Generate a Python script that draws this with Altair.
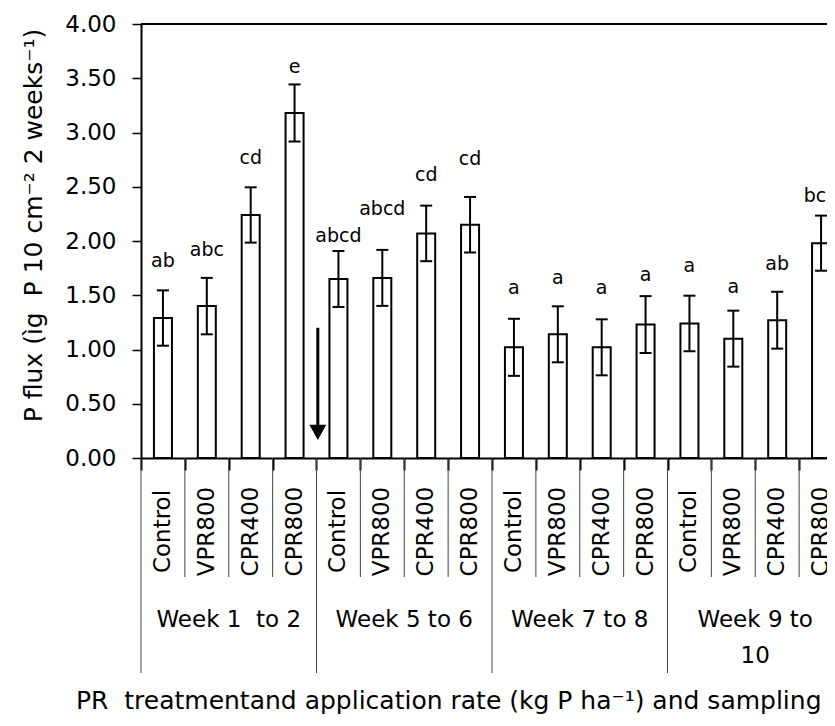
import altair as alt
import pandas as pd

# ---------------- data ----------------
groups = ["Week 1\u00a0 to 2", "Week 5 to 6", "Week 7 to 8", "Week 9 to\n10"]
treatments = ["Control", "VPR800", "CPR400", "CPR800"]
flux = [1.29, 1.40, 2.24, 3.18,
        1.65, 1.66, 2.07, 2.15,
        1.02, 1.14, 1.02, 1.23,
        1.24, 1.10, 1.27, 1.98]
se = [0.255, 0.26, 0.255, 0.263,
      0.258, 0.258, 0.256, 0.256,
      0.263, 0.258, 0.258, 0.262,
      0.256, 0.258, 0.262, 0.254]
letters = ["ab", "abc", "cd", "e",
           "abcd", "abcd", "cd", "cd",
           "a", "a", "a", "a",
           "a", "a", "ab", "bcd"]
letter_y = [1.76, 1.865, 2.71, 3.55,
            1.99, 2.237, 2.55, 2.70,
            1.515, 1.60, 1.515, 1.63,
            1.714, 1.52, 1.73, 2.36]
y_ticks = [0.0, 0.5, 1.0, 1.5, 2.0, 2.5, 3.0, 3.5, 4.0]
arrow_slot = [4.03]       # just right of the boundary between the first two sampling periods
arrow_from = [1.20]
arrow_to = [0.30]
arrow_head = [0.236]

y_title = "P flux (\u00ecg\u00a0 P 10 cm\u207b\u00b2 2 weeks\u207b\u00b9)"
x_title = "PR\u00a0 treatmentand application rate (kg P ha\u207b\u00b9) and sampling period"

# ---------------- tables ----------------
n = len(flux)
df = pd.DataFrame({
    "pos": [i + 0.5 for i in range(n)],
    "flux": flux,
    "lo": [f - s for f, s in zip(flux, se)],
    "hi": [f + s for f, s in zip(flux, se)],
    "letter": letters,
    "ly": letter_y,
    "cat": [treatments[i % 4] for i in range(n)],
})
inner_df = pd.DataFrame({"b": [b for b in range(1, n) if b % 4]})
week_df = pd.DataFrame({"b": [b for b in range(0, n, 4)]})
grp_df = pd.DataFrame({"c": [g * 4 + 2 for g in range(len(groups))], "grp": groups})
arrow_df = pd.DataFrame({"x": arrow_slot, "y1": arrow_from, "y2": arrow_to, "yh": arrow_head})
top_df = pd.DataFrame({"top": [4.0]})

W = 686
H = 434
XMAX = 686 / 43.875  # visible part of the 16 category slots (the figure is cut at the right)
FONT = "DejaVu Sans"

xs = alt.Scale(domain=[0, XMAX], nice=False, zero=False, padding=0)
ys = alt.Scale(domain=[0, 4], nice=False, padding=0)

x_axis = alt.Axis(
    orient="bottom", values=list(range(16)), tickSize=12, tickWidth=2, tickColor="black",
    labels=False, grid=False, domainColor="black", domainWidth=2,
    title=x_title, titleFontSize=25, titleFontWeight="normal", titleFont=FONT, titleColor="black",
    titleX=351, titleY=250, titleAlign="center", titleBaseline="alphabetic")
y_axis = alt.Axis(
    orient="left", values=y_ticks, format=".2f", tickSize=9, tickWidth=1.5, tickColor="black",
    labelPadding=16, labelFontSize=23, labelFont=FONT, labelColor="black",
    grid=False, domainColor="black", domainWidth=2,
    title=y_title, titleFontSize=25, titleFontWeight="normal", titleFont=FONT, titleColor="black",
    titleX=-95, titleY=201)


def X(field):
    return alt.X(field, scale=xs, axis=x_axis)


def Y(field):
    return alt.Y(field, scale=ys, axis=y_axis)


bars = alt.Chart(df).mark_bar(size=18, fill="white", stroke="black", strokeWidth=2).encode(
    x=X("pos:Q"), y=Y("flux:Q"), y2=alt.datum(0),
)
stems = alt.Chart(df).mark_rule(color="black", strokeWidth=2).encode(
    x=X("pos:Q"), y=Y("lo:Q"), y2="hi:Q",
)
caps_hi = alt.Chart(df).mark_tick(orient="horizontal", size=12, thickness=2, color="black", opacity=1).encode(
    x=X("pos:Q"), y=Y("hi:Q"),
)
caps_lo = alt.Chart(df).mark_tick(orient="horizontal", size=12, thickness=2, color="black", opacity=1).encode(
    x=X("pos:Q"), y=Y("lo:Q"),
)
labels = alt.Chart(df).mark_text(fontSize=19, font=FONT, baseline="alphabetic", align="center",
                                 color="black").encode(
    x=X("pos:Q"), y=Y("ly:Q"), text="letter:N",
)
arrow_line = alt.Chart(arrow_df).mark_rule(color="black", strokeWidth=3).encode(
    x=X("x:Q"), y=Y("y1:Q"), y2="y2:Q",
)
arrow_tip = alt.Chart(arrow_df).mark_point(
    shape="M-1,-0.9L1,-0.9L0,0.9Z", size=289, filled=True, color="black", opacity=1, strokeWidth=0
).encode(
    x=X("x:Q"), y=Y("yh:Q"),
)
# plot-area top border
top_border = alt.Chart(top_df).mark_rule(color="black", strokeWidth=2).encode(
    y=Y("top:Q"),
)
# multi-level category axis
inner_sep = alt.Chart(inner_df).mark_rule(color="#444", strokeWidth=1).encode(
    x=X("b:Q"), y=alt.value(H), y2=alt.value(H + 119),
)
week_sep = alt.Chart(week_df).mark_rule(color="#444", strokeWidth=1).encode(
    x=X("b:Q"), y=alt.value(H), y2=alt.value(H + 215),
)
cat_text = alt.Chart(df).mark_text(angle=270, fontSize=23, font=FONT, align="center",
                                   baseline="middle", color="black").encode(
    x=X("pos:Q"), y=alt.value(H + 73.5), text="cat:N",
)
grp_text = alt.Chart(grp_df).mark_text(fontSize=23, font=FONT, align="center", baseline="alphabetic",
                                       lineBreak="\n", lineHeight=36, color="black").encode(
    x=X("c:Q"), y=alt.value(H + 169), text="grp:N",
)

chart = alt.layer(
    bars, stems, caps_hi, caps_lo, labels, arrow_line, arrow_tip, top_border,
    inner_sep, week_sep, cat_text, grp_text,
).properties(
    width=W, height=H,
    autosize=alt.AutoSizeParams(type="none"),
    padding={"left": 133, "top": 16, "right": 0, "bottom": 256},
    background="white",
).configure_view(strokeWidth=0).configure(font=FONT)

chart.save("out.html", embed_options={"renderer": "svg", "actions": False})
